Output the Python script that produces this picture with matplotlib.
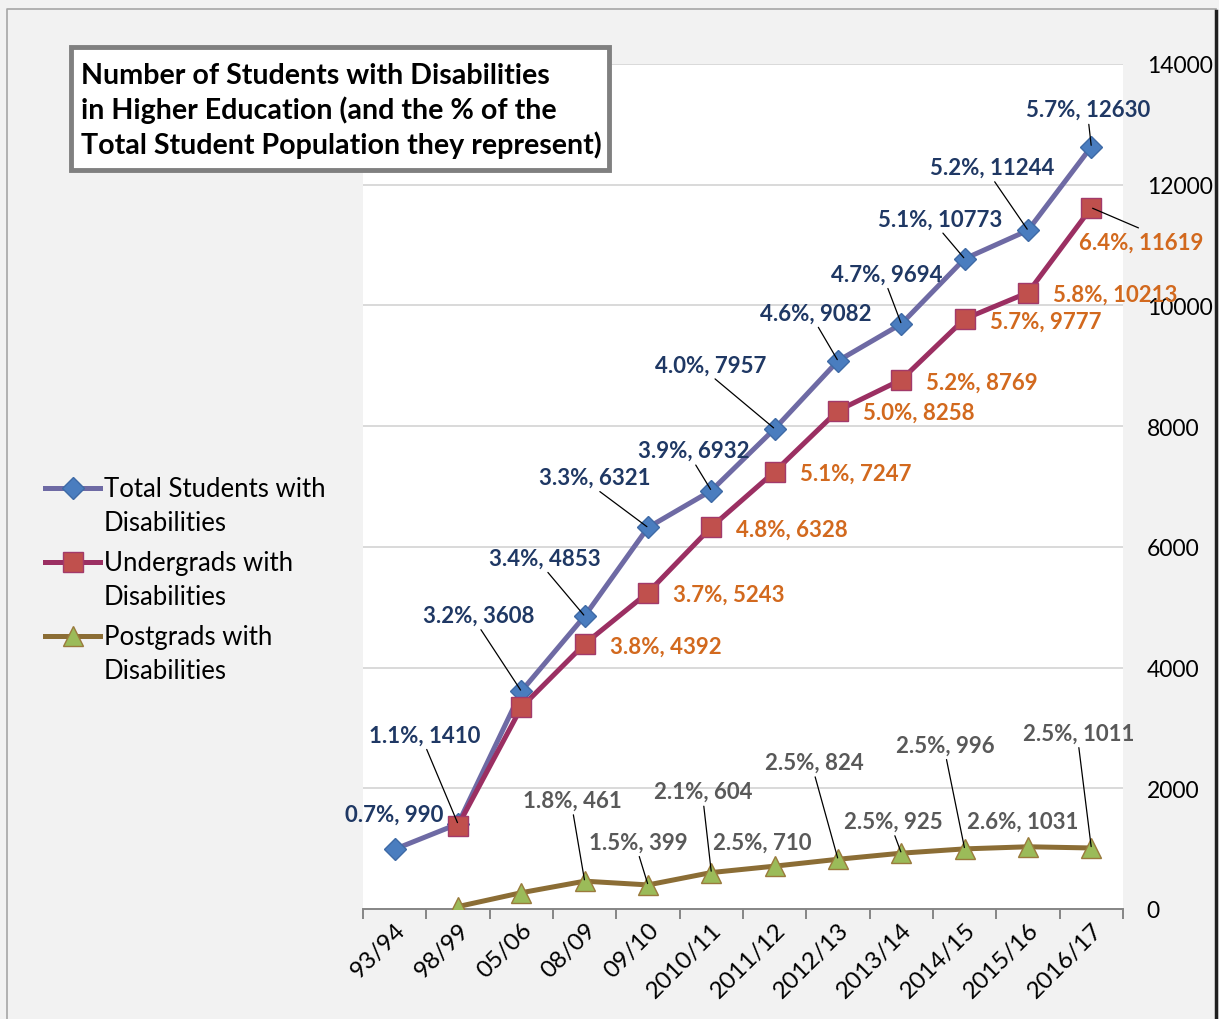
import matplotlib.pyplot as plt
from matplotlib.patches import Rectangle
import numpy as np

# data
years = ["93/94", "98/99", "05/06", "08/09", "09/10", "2010/11", "2011/12",
         "2012/13", "2013/14", "2014/15", "2015/16", "2016/17"]
total = [990, 1410, 3608, 4853, 6321, 6932, 7957, 9082, 9694, 10773, 11244, 12630]
total_pct = ["0.7%", "1.1%", "3.2%", "3.4%", "3.3%", "3.9%", "4.0%", "4.6%",
             "4.7%", "5.1%", "5.2%", "5.7%"]
under = [np.nan, 1380, 3340, 4392, 5243, 6328, 7247, 8258, 8769, 9777, 10213, 11619]
under_pct = [None, None, None, "3.8%", "3.7%", "4.8%", "5.1%", "5.0%", "5.2%",
             "5.7%", "5.8%", "6.4%"]
post = [np.nan, 40, 270, 461, 399, 604, 710, 824, 925, 996, 1031, 1011]
post_pct = [None, None, None, "1.8%", "1.5%", "2.1%", "2.5%", "2.5%", "2.5%",
            "2.5%", "2.6%", "2.5%"]

# label offsets in pixels (dx, dy) and whether a leader line is drawn
total_off = [(0, 35, 0), (-33, 89, 1), (-43, 76, 1), (-40, 58, 1), (-53, 50, 1),
             (-18, 40, 1), (-64, 64, 1), (-22, 48, 1), (-15, 50, 1), (-25, 40, 1),
             (-36, 63, 1), (-3, 37, 1)]
post_off = [None, None, None, (-12, 81, 1), (-10, 43, 1), (-8, 81, 1), (-12, 24, 0),
            (-24, 97, 1), (-8, 32, 1), (-19, 104, 1), (-5, 26, 0), (-13, 115, 1)]

plt.rcParams['font.family'] = ['Lato', 'DejaVu Sans']

W, H = 1219, 1020
fig = plt.figure(figsize=(W / 100, H / 100), dpi=100)
fig.patch.set_facecolor('#f2f2f2')

ax = fig.add_axes([363 / W, 1 - 910 / H, 760 / W, 845 / H])
ax.set_facecolor('white')
x = np.arange(len(years))

c_tot, c_und, c_pst = '#6e6aa4', '#9b2f62', '#8b6d35'
ax.plot(x, total, color=c_tot, lw=3.6, marker='D', ms=11, mfc='#4a7dbf',
        mec='#3e6aa6', mew=1, zorder=3)
ax.plot(x, under, color=c_und, lw=3.6, marker='s', ms=15, mfc='#c0504d',
        mec='#a23a6a', mew=1, zorder=4)
ax.plot(x, post, color=c_pst, lw=3.6, marker='^', ms=15, mfc='#9bbb59',
        mec='#9a7a3c', mew=1, zorder=5)

ax.set_xlim(-0.5, len(years) - 0.5)
ax.set_ylim(0, 14000)
ax.set_yticks(range(0, 14001, 2000))
ax.yaxis.tick_right()
ax.tick_params(axis='y', length=0, pad=17, labelsize=16.5)
ax.yaxis.grid(True, color='#d9d9d9', lw=1.4)
ax.set_axisbelow(True)
for s in ['left', 'right', 'top']:
    ax.spines[s].set_visible(False)
ax.spines['bottom'].set_color('#868686')
ax.spines['bottom'].set_linewidth(1.4)
ax.set_xticks(x)
ax.set_xticklabels(years, rotation=45, ha='right', rotation_mode='anchor', fontsize=17.5)
ax.tick_params(axis='x', length=0, pad=7)
ax.set_xticks(np.arange(-0.5, len(years), 1), minor=True)
ax.tick_params(axis='x', which='minor', length=7, width=1.4, color='#868686')

navy, orange, grey = '#1f3864', '#d2691e', '#595959'
lead = dict(arrowstyle='-', color='black', lw=0.9, shrinkA=1, shrinkB=1)

for i in range(len(years)):
    dx, dy, ld = total_off[i]
    ax.annotate(f"{total_pct[i]}, {total[i]}", (i, total[i]), xytext=(dx, dy),
                textcoords='offset pixels', ha='center', va='center', fontsize=16,
                fontweight='bold', color=navy, zorder=6,
                arrowprops=dict(lead, relpos=(0.5, 0)) if ld else None)
    if under_pct[i]:
        if i == len(years) - 1:
            ax.annotate(f"{under_pct[i]}, {under[i]}", (i, under[i]), xytext=(50, -34),
                        textcoords='offset pixels', ha='center', va='center',
                        fontsize=16, fontweight='bold', color=orange, zorder=6,
                        annotation_clip=False,
                        arrowprops=dict(lead, relpos=(0.5, 1.1)))
        else:
            ax.annotate(f"{under_pct[i]}, {under[i]}", (i, under[i]), xytext=(25, -2),
                        textcoords='offset pixels', ha='left', va='center',
                        fontsize=16, fontweight='bold', color=orange, zorder=6,
                        annotation_clip=False)
    if post_pct[i]:
        dx, dy, ld = post_off[i]
        ax.annotate(f"{post_pct[i]}, {post[i]}", (i, post[i]), xytext=(dx, dy),
                    textcoords='offset pixels', ha='center', va='center', fontsize=16,
                    fontweight='bold', color=grey, zorder=6,
                    arrowprops=dict(lead, relpos=(0.5, 0)) if ld else None)

# overlay in pixel coordinates for frame, title box and legend
ov = fig.add_axes([0, 0, 1, 1], zorder=10)
ov.set_xlim(0, W)
ov.set_ylim(H, 0)
ov.axis('off')
ov.patch.set_alpha(0)

ov.plot([7, 7, 1216], [H, 10, 10], color='#a6a6a6', lw=1.2)
ov.plot([1216, 1216], [12, H], color='#202020', lw=2.5)

ov.add_patch(Rectangle((71, 48), 538, 123, facecolor='white', edgecolor='#808080', lw=3.5))
ov.text(81, 111, "Number of Students with Disabilities\n"
        "in Higher Education (and the % of the\n"
        "Total Student Population they represent)",
        ha='left', va='center', fontsize=20.6, fontweight='bold', color='black',
        linespacing=1.33)

legend_items = [("Total Students with\nDisabilities", c_tot, 'D', 11, '#4a7dbf', '#3e6aa6'),
                ("Undergrads with\nDisabilities", c_und, 's', 15, '#c0504d', '#a23a6a'),
                ("Postgrads with\nDisabilities", c_pst, '^', 15, '#9bbb59', '#9a7a3c')]
for k, (lab, col, mk, ms, fc, ec) in enumerate(legend_items):
    yy = 489 + k * 74
    ov.plot([45, 100], [yy, yy], color=col, lw=3.6)
    ov.plot([72.5], [yy], marker=mk, ms=ms, mfc=fc, mec=ec, mew=1)
    ov.text(104, yy + 18, lab, ha='left', va='center', fontsize=18.5, linespacing=1.45)

fig.savefig('out.png', dpi=100, facecolor=fig.get_facecolor())
